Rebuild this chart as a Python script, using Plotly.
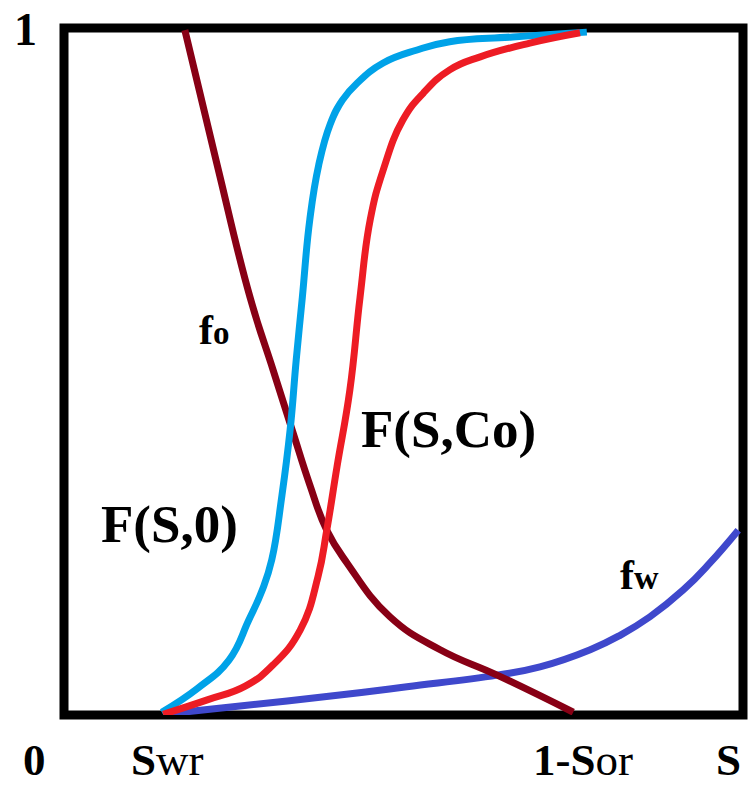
import plotly.graph_objects as go

# Saturation (normalized to the plot box) and fractional-flow values
fo_s = [0.178, 0.225, 0.274, 0.308, 0.336, 0.362, 0.387, 0.417, 0.480, 0.554, 0.638, 0.750]
fo_v = [0.997, 0.803, 0.608, 0.502, 0.415, 0.335, 0.269, 0.221, 0.143, 0.095, 0.058, 0.004]

f0_s = [0.144, 0.197, 0.243, 0.272, 0.292, 0.306, 0.321, 0.333, 0.342, 0.351, 0.362, 0.375,
        0.392, 0.410, 0.432, 0.470, 0.520, 0.568, 0.661, 0.770]
f0_v = [0.004, 0.039, 0.080, 0.138, 0.182, 0.226, 0.320, 0.415, 0.517, 0.608, 0.721, 0.800,
        0.860, 0.895, 0.920, 0.949, 0.968, 0.980, 0.987, 0.994]

fc_s = [0.146, 0.211, 0.267, 0.308, 0.348, 0.374, 0.387, 0.402, 0.421, 0.436, 0.451, 0.470,
        0.499, 0.529, 0.568, 0.613, 0.686, 0.760]
fc_v = [0.001, 0.022, 0.042, 0.073, 0.124, 0.201, 0.269, 0.361, 0.473, 0.608, 0.721, 0.793,
        0.866, 0.905, 0.939, 0.958, 0.978, 0.993]

fw_s = [0.146, 0.249, 0.406, 0.505, 0.638, 0.701, 0.775, 0.819, 0.863, 0.912, 0.951, 0.993]
fw_v = [0.001, 0.012, 0.029, 0.041, 0.058, 0.070, 0.095, 0.116, 0.143, 0.182, 0.221, 0.269]

FONT = "Liberation Serif, Times New Roman, serif"

fig = go.Figure()

def add(xs, ys, color):
    fig.add_trace(go.Scatter(x=xs, y=ys, mode="lines",
                             line=dict(color=color, width=7, shape="spline", smoothing=1.3),
                             hoverinfo="skip", showlegend=False))

add(fw_s, fw_v, "#3F48CC")
add(fo_s, fo_v, "#880015")
add(f0_s, f0_v, "#00A2E8")
add(fc_s, fc_v, "#ED1C24")

fig.add_shape(type="rect", xref="paper", yref="paper", x0=0, x1=1, y0=0, y1=1,
              line=dict(color="black", width=9), layer="below")

def ann(text, x, y, size):
    fig.add_annotation(text=text, x=x, y=y, xref="paper", yref="paper",
                       xanchor="center", yanchor="middle", showarrow=False,
                       font=dict(family=FONT, size=size, color="black"))

ann("<b>1</b>", -0.056, 0.998, 46)
ann("<b>0</b>", -0.044, -0.066, 45)
ann("<b>S</b>wr", 0.152, -0.066, 45)
ann("<b>1-S</b>or", 0.764, -0.066, 45)
ann("<b>S</b>", 0.979, -0.066, 45)
ann("<b>f</b><b><span style='font-size:33px'>o</span></b>", 0.222, 0.560, 42)
ann("<b>f</b><b><span style='font-size:34px'>w</span></b>", 0.848, 0.204, 42)
ann("<b>F(S,0)</b>", 0.156, 0.277, 53)
ann("<b>F(S,Co)</b>", 0.567, 0.416, 53)

fig.update_xaxes(range=[0, 1], visible=False, fixedrange=True)
fig.update_yaxes(range=[0, 1], visible=False, fixedrange=True)
fig.update_layout(width=752, height=787, autosize=False,
                  margin=dict(l=64, r=9, t=28, b=72),
                  paper_bgcolor="white", plot_bgcolor="white")

fig.write_html("out.html", include_plotlyjs=True, config={"displayModeBar": False})
